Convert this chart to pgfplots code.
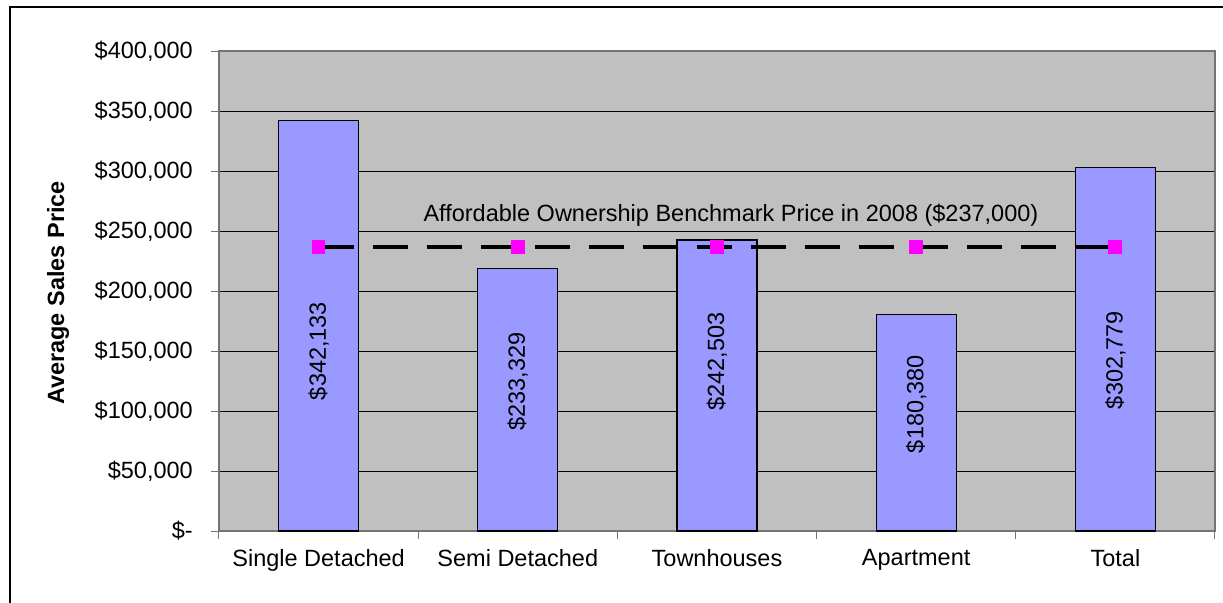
\documentclass[border=0pt]{standalone}
\usepackage{pgfplots}
\pgfplotsset{compat=1.18}
\usepackage{fontspec}
\setmainfont{Liberation Sans}
\definecolor{barfill}{HTML}{9999FF}
\definecolor{plotbg}{HTML}{C0C0C0}
\definecolor{mk}{HTML}{FF00FF}
\begin{document}
\fontsize{11.75}{14}\selectfont
\begin{tikzpicture}
\useasboundingbox (0,0) rectangle (611.5pt,301pt);
\clip (0,0) rectangle (611.5pt,301pt);
\draw[line width=1.2pt] (5pt,-20pt) rectangle (640pt,297.5pt);
\begin{axis}[
  at={(109.5pt,35.5pt)}, anchor=south west,
  scale only axis, width=498pt, height=240pt,
  xmin=-0.5, xmax=4.5, ymin=0, ymax=400000,
  axis background/.style={fill=plotbg},
  axis line style={draw=gray!90!black, line width=0.6pt},
  ytick={0,50000,...,400000},
  yticklabels={{\$-},{\$50,000},{\$100,000},{\$150,000},{\$200,000},{\$250,000},{\$300,000},{\$350,000},{\$400,000}},
  scaled y ticks=false,
  ymajorgrids, grid style={black, line width=0.5pt},
  xtick={-0.5,0.5,1.5,2.5,3.5,4.5},
  xticklabels={},
  extra x ticks={0,1,2,3,4},
  extra x tick labels={Single Detached, Semi Detached, Townhouses, Apartment, Total},
  extra x tick style={tick style={draw=none}, xticklabel style={yshift=-1pt}},
  xtick pos=bottom, ytick pos=left,
  tick align=outside,
  major tick length=4pt,
  tick style={draw=gray!90!black, line width=0.5pt},
  xmajorgrids=false,
  ticklabel style={font=\fontsize{11.75}{14}\selectfont},
  yticklabel style={xshift=-5pt},
  /pgf/number format/assume math mode=true,
  clip=false,
]
\addplot[ybar, bar width=40pt, fill=barfill, draw=black, line width=0.6pt] coordinates {
  (0,342133) (1,219000) (2,242503) (3,180380) (4,302779)};
\addplot[draw=black, line width=2pt, dash pattern=on 17.5pt off 9.5pt,
  mark=square*, mark size=3.2pt, mark options={solid, fill=mk, draw=mk, line width=0pt}] coordinates {
  (0,237000) (1,237000) (2,237000) (3,237000) (4,237000)};
\addplot[draw=none, mark=none, nodes near coords, point meta=explicit symbolic,
  every node near coord/.append style={rotate=90, anchor=center, font=\fontsize{11.75}{14}\selectfont}]
  table[meta=label] {
x y label
0 150000 \$342,133
1 124600 \$233,329
2 141250 \$242,503
3 105800 \$180,380
4 142500 \$302,779
};
\node[font=\fontsize{11.75}{14}\selectfont] at (axis cs:2.07,263333) {Affordable Ownership Benchmark Price in 2008 (\$237,000)};
\node[rotate=90, font=\fontsize{11.75}{14}\selectfont\bfseries] at ([xshift=-80.5pt,yshift=-1pt]rel axis cs:0,0.5) {Average Sales Price};
\end{axis}
\end{tikzpicture}
\end{document}
